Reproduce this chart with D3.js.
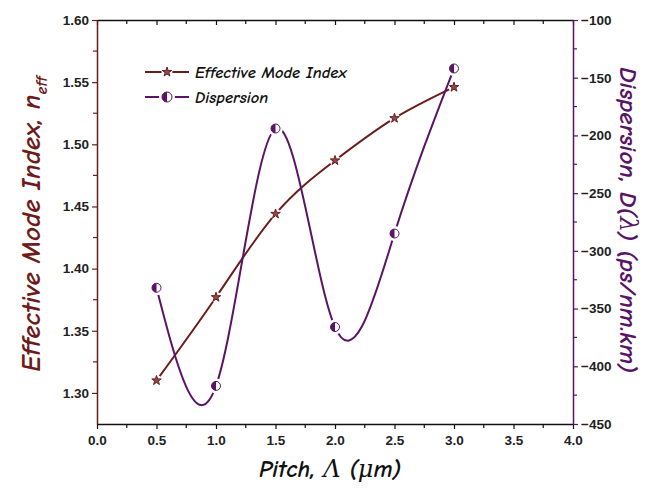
<!DOCTYPE html>
<html><head><meta charset="utf-8">
<script src="https://cdn.jsdelivr.net/npm/d3@7"></script>
<style>body{margin:0;background:#fff}</style>
</head><body>
<script>
const pitch = [0.5, 1.0, 1.5, 2.0, 2.5, 3.0];
const neff = [1.310, 1.377, 1.444, 1.487, 1.521, 1.546];
const dispersion = [-332, -417, -194, -366, -285, -142];
const xTicks = [0.0, 0.5, 1.0, 1.5, 2.0, 2.5, 3.0, 3.5, 4.0];
const leftTicks = [1.30, 1.35, 1.40, 1.45, 1.50, 1.55, 1.60];
const rightTicks = [-450, -400, -350, -300, -250, -200, -150, -100];

const W = 652, H = 489;
const m = {l: 97, r: 652-573, t: 20, b: 489-424};
const brown = "#6e1b1b", purple = "#5a1466";
const titleFont = "'Comic Sans MS','Comic Neue','DejaVu Sans',sans-serif";
const greekFont = "'DejaVu Serif','Liberation Serif',serif";
const tickFont = "'Liberation Sans',Arial,sans-serif";

const svg = d3.select("body").append("svg").attr("width", W).attr("height", H);
const x = d3.scaleLinear().domain([0, 4]).range([m.l, W - m.r]);
const yL = d3.scaleLinear().domain([1.275, 1.60]).range([H - m.b, m.t]);
const yR = d3.scaleLinear().domain([-450, -100]).range([H - m.b, m.t]);

function styleAxis(g, color) {
  g.selectAll(".domain").attr("stroke", color).attr("stroke-width", 1.5);
  g.selectAll(".tick line").attr("stroke", color).attr("stroke-width", 1.2);
  g.selectAll(".tick text").attr("fill", "#222").attr("font-family", tickFont)
    .attr("font-weight", "bold").attr("font-size", 13.5);
}
const xMinor = d3.range(0.25, 4, 0.5);
const lMinor = d3.range(1.325, 1.6, 0.05);
const rMinor = d3.range(-425, -100, 50);

const gB = svg.append("g").attr("transform", `translate(0,${H - m.b})`)
  .call(d3.axisBottom(x).tickValues(xTicks).tickFormat(d3.format(".1f")).tickSize(5).tickSizeOuter(0).tickPadding(6));
styleAxis(gB, "#111");
gB.selectAll(".minor").data(xMinor).join("line").attr("x1", d => x(d)).attr("x2", d => x(d))
  .attr("y1", 0).attr("y2", 4).attr("stroke", "#111").attr("stroke-width", 1.2);
const gT = svg.append("g").attr("transform", `translate(0,${m.t})`)
  .call(d3.axisTop(x).tickValues(xTicks).tickFormat("").tickSize(-5).tickSizeOuter(0));
styleAxis(gT, "#111");
gT.selectAll(".minor").data(xMinor).join("line").attr("x1", d => x(d)).attr("x2", d => x(d))
  .attr("y1", 0).attr("y2", 4).attr("stroke", "#111").attr("stroke-width", 1.2);
const gL = svg.append("g").attr("transform", `translate(${m.l},0)`)
  .call(d3.axisLeft(yL).tickValues(leftTicks).tickFormat(d3.format(".2f")).tickSize(5).tickSizeOuter(0).tickPadding(3));
styleAxis(gL, brown);
gL.selectAll(".minor").data(lMinor).join("line").attr("y1", d => yL(d)).attr("y2", d => yL(d))
  .attr("x1", 0).attr("x2", -4).attr("stroke", brown).attr("stroke-width", 1.2);
const gR = svg.append("g").attr("transform", `translate(${W - m.r},0)`)
  .call(d3.axisRight(yR).tickValues(rightTicks).tickSize(5).tickSizeOuter(0).tickPadding(3));
styleAxis(gR, purple);
gR.selectAll(".minor").data(rMinor).join("line").attr("y1", d => yR(d)).attr("y2", d => yR(d))
  .attr("x1", 0).attr("x2", 4).attr("stroke", purple).attr("stroke-width", 1.2);

const nData = pitch.map((p, i) => [p, neff[i]]);
const dData = pitch.map((p, i) => [p, dispersion[i]]);
svg.append("path").datum(nData).attr("fill", "none").attr("stroke", brown).attr("stroke-width", 2)
  .attr("d", d3.line().x(d => x(d[0])).y(d => yL(d[1])).curve(d3.curveNatural));
svg.append("path").datum(dData).attr("fill", "none").attr("stroke", purple).attr("stroke-width", 2)
  .attr("d", d3.line().x(d => x(d[0])).y(d => yR(d[1])).curve(d3.curveNatural));

const star = d3.symbol().type(d3.symbolStar).size(28);
function halfCircle(g, cx, cy, r) {
  g.append("circle").attr("cx", cx).attr("cy", cy).attr("r", r + 3).attr("fill", "#fff");
  g.append("circle").attr("cx", cx).attr("cy", cy).attr("r", r).attr("fill", "#fff").attr("stroke", purple).attr("stroke-width", 1);
  g.append("path").attr("d", `M${cx},${cy - r}A${r},${r} 0 0 0 ${cx},${cy + r}Z`).attr("fill", purple);
}
function starMark(g, cx, cy) {
  g.append("circle").attr("cx", cx).attr("cy", cy).attr("r", 5.5).attr("fill", "#fff");
  g.append("path").attr("d", star()).attr("transform", `translate(${cx},${cy})`)
    .attr("fill", "#8a4a4a").attr("stroke", brown).attr("stroke-width", 1);
}
const mk = svg.append("g");
nData.forEach(d => starMark(mk, x(d[0]), yL(d[1])));
dData.forEach(d => halfCircle(mk, x(d[0]), yR(d[1]), 4.5));

const lg = svg.append("g");
lg.append("line").attr("x1", 145).attr("x2", 189).attr("y1", 72).attr("y2", 72).attr("stroke", brown).attr("stroke-width", 2);
starMark(lg, 167, 72);
lg.append("line").attr("x1", 145).attr("x2", 189).attr("y1", 97).attr("y2", 97).attr("stroke", purple).attr("stroke-width", 2);
halfCircle(lg, 167, 97, 5);
lg.append("text").attr("x", 195).attr("y", 78).text("Effective Mode Index")
  .attr("font-family", titleFont).attr("font-style", "italic").attr("font-weight", "bold").attr("font-size", 16.5).attr("fill", "#111");
lg.append("text").attr("x", 195).attr("y", 103).text("Dispersion")
  .attr("font-family", titleFont).attr("font-style", "italic").attr("font-weight", "bold").attr("font-size", 16.5).attr("fill", "#111");

const lt = svg.append("text").attr("transform", `translate(40,${224}) rotate(-90)`)
  .attr("text-anchor", "middle").attr("font-family", titleFont).attr("font-style", "italic")
  .attr("font-weight", "bold").attr("font-size", 27).attr("fill", brown);
lt.append("tspan").text("Effective Mode Index, n");
lt.append("tspan").text("eff").attr("font-size", 16).attr("dy", 7);

const rt = svg.append("text").attr("transform", `translate(620,${220}) rotate(90)`)
  .attr("text-anchor", "middle").attr("font-family", titleFont).attr("font-style", "italic")
  .attr("font-weight", "bold").attr("font-size", 25).attr("fill", purple);
rt.append("tspan").text("Dispersion,  D(");
rt.append("tspan").text("λ").attr("font-family", greekFont).attr("font-weight", "normal");
rt.append("tspan").text(") (ps/nm.km)");

const bt = svg.append("text").attr("x", 330).attr("y", 477).attr("text-anchor", "middle")
  .attr("font-family", titleFont).attr("font-style", "italic").attr("font-weight", "bold")
  .attr("font-size", 24).attr("fill", "#111");
bt.append("tspan").text("Pitch,  ");
bt.append("tspan").text("Λ").attr("font-family", greekFont).attr("font-weight", "normal");
bt.append("tspan").text(" (");
bt.append("tspan").text("μ").attr("font-family", greekFont).attr("font-weight", "normal");
bt.append("tspan").text("m)");
</script>
</body></html>
